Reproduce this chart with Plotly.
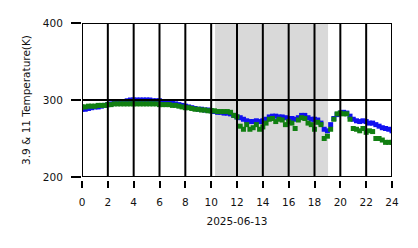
import plotly.graph_objects as go

# Time in hours (15-minute steps) for 2025-06-13
hours = [i * 0.25 for i in range(97)]

t39 = [288, 288, 289, 290, 291, 291, 292, 293, 294, 295, 296, 297, 298, 298, 299, 300,
       300, 300, 300, 300, 300, 300, 299, 299, 299, 298, 298, 297, 296, 295, 294, 293,
       292, 291, 290, 289, 288, 288, 287, 287, 286, 285, 284, 284, 283, 283, 282, 280,
       278, 277, 275, 273, 272, 272, 273, 272, 273, 275, 278, 279, 279, 278, 278, 277,
       276, 276, 275, 277, 280, 280, 277, 275, 275, 274, 270, 262, 260, 268, 276, 281,
       283, 284, 283, 279, 275, 273, 272, 273, 272, 270, 270, 268, 266, 264, 263, 262,
       260]

t11 = [291, 291, 292, 292, 292, 293, 293, 293, 294, 294, 295, 295, 295, 295, 295, 295,
       295, 295, 295, 295, 295, 295, 295, 295, 294, 294, 294, 294, 293, 293, 292, 291,
       290, 290, 289, 288, 288, 287, 287, 286, 286, 286, 285, 285, 285, 285, 284, 280,
       278, 266, 262, 268, 262, 264, 268, 262, 265, 270, 275, 276, 272, 275, 274, 268,
       272, 270, 263, 274, 277, 276, 270, 268, 262, 271, 268, 250, 253, 262, 275, 282,
       283, 282, 282, 275, 263, 262, 260, 263, 258, 260, 259, 250, 250, 248, 245, 245,
       245]

shade_start = 10.3
shade_end = 19.05
x_min, x_max = 0, 24
y_min, y_max = 200, 400
xticks = list(range(0, 25, 2))
yticks = [200, 300, 400]

font = "DejaVu Sans"
fs = 10.5

fig = go.Figure()
fig.add_shape(type="rect", xref="x", yref="y", x0=shade_start, x1=shade_end,
              y0=y_min, y1=y_max, fillcolor="#d9d9d9", line=dict(width=0), layer="below")
fig.add_trace(go.Scatter(x=hours, y=t39, mode="markers",
                         marker=dict(symbol="square", size=5, color="#1010f0", line=dict(width=0)),
                         showlegend=False))
fig.add_trace(go.Scatter(x=hours, y=t11, mode="markers",
                         marker=dict(symbol="square", size=5, color="#117f11", line=dict(width=0)),
                         showlegend=False))

# grid lines drawn above the data, as in the reference
for xv in xticks:
    fig.add_shape(type="line", xref="x", yref="y", x0=xv, x1=xv, y0=y_min, y1=y_max,
                  line=dict(color="black", width=2), layer="above")
for yv in yticks:
    fig.add_shape(type="line", xref="x", yref="y", x0=x_min, x1=x_max, y0=yv, y1=yv,
                  line=dict(color="black", width=2), layer="above")

fig.update_layout(
    width=418, height=248,
    margin=dict(l=82, r=26, t=23, b=68),
    plot_bgcolor="rgba(0,0,0,0)", paper_bgcolor="white",
    font=dict(family=font, size=fs, color="#111"),
    xaxis=dict(range=[x_min, x_max], tickvals=xticks, ticks="outside", ticklen=7, tickwidth=2,
               tickcolor="black", showgrid=False,
               zeroline=False, showline=False, anchor="free", position=0,
               ticklabelstandoff=5,
               title=dict(text="2025-06-13", standoff=11, font=dict(size=fs))),
    yaxis=dict(range=[y_min, y_max], tickvals=yticks, ticks="outside", ticklen=10, tickwidth=2,
               tickcolor="black", showgrid=False,
               zeroline=False, showline=False, domain=[3 / 157, 1],
               ticklabelstandoff=6,
               title=dict(text="3.9 & 11 Temperature(K)", standoff=10, font=dict(size=fs))),
)

fig.write_html("out.html")
